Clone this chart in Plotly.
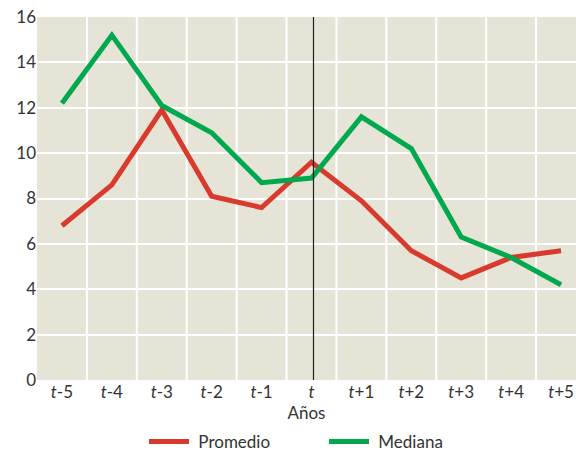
import plotly.graph_objects as go

categories = ["t-5", "t-4", "t-3", "t-2", "t-1", "t", "t+1", "t+2", "t+3", "t+4", "t+5"]
tick_labels = ["<i>t</i>-5", "<i>t</i>-4", "<i>t</i>-3", "<i>t</i>-2", "<i>t</i>-1", "<i>t</i>",
               "<i>t</i>+1", "<i>t</i>+2", "<i>t</i>+3", "<i>t</i>+4", "<i>t</i>+5"]
promedio = [6.8, 8.6, 11.9, 8.1, 7.6, 9.6, 7.9, 5.7, 4.5, 5.4, 5.7]
mediana = [12.2, 15.2, 12.1, 10.9, 8.7, 8.9, 11.6, 10.2, 6.3, 5.4, 4.2]

xs = list(range(len(categories)))
font_family = "Lato, 'Open Sans', sans-serif"

fig = go.Figure()
fig.add_trace(go.Scatter(x=xs, y=promedio, mode="lines", name=" Promedio",
                         line=dict(color="#d83a2e", width=5)))
fig.add_trace(go.Scatter(x=xs, y=mediana, mode="lines", name=" Mediana",
                         line=dict(color="#00a84e", width=5)))

fig.add_shape(type="line", xref="x", yref="paper", x0=5.04, x1=5.04, y0=0, y1=1,
              line=dict(color="#222222", width=1.2), layer="above")

fig.update_layout(
    width=576, height=460,
    margin=dict(l=37, r=0, t=17, b=80, autoexpand=False),
    paper_bgcolor="white",
    plot_bgcolor="#e6e4d7",
    font=dict(family=font_family, size=17, color="#333333"),
    showlegend=True,
    legend=dict(orientation="h", x=(144 - 37) / 539, xanchor="left",
                yref="container", y=0.0, yanchor="bottom",
                font=dict(size=17, color="#333333"), itemwidth=40,
                entrywidth=125, entrywidthmode="pixels"),
    xaxis=dict(
        range=[-0.5, 10.3],
        tickmode="array",
        tickvals=xs,
        ticktext=tick_labels,
        showgrid=False,
        zeroline=False,
        showline=False,
        ticks="",
        title=dict(text="Años", font=dict(size=17), standoff=3),
        tickfont=dict(size=17),
    ),
    yaxis=dict(
        range=[0, 16],
        tickvals=[0, 2, 4, 6, 8, 10, 12, 14, 16],
        showgrid=True,
        gridcolor="white",
        gridwidth=2,
        zeroline=False,
        showline=False,
        ticks="",
        tickfont=dict(size=17),
    ),
)

for b in [0.5 + i for i in range(10)]:
    fig.add_shape(type="line", xref="x", yref="paper", x0=b, x1=b, y0=0, y1=1,
                  line=dict(color="white", width=2), layer="below")

fig.write_html("out.html")
